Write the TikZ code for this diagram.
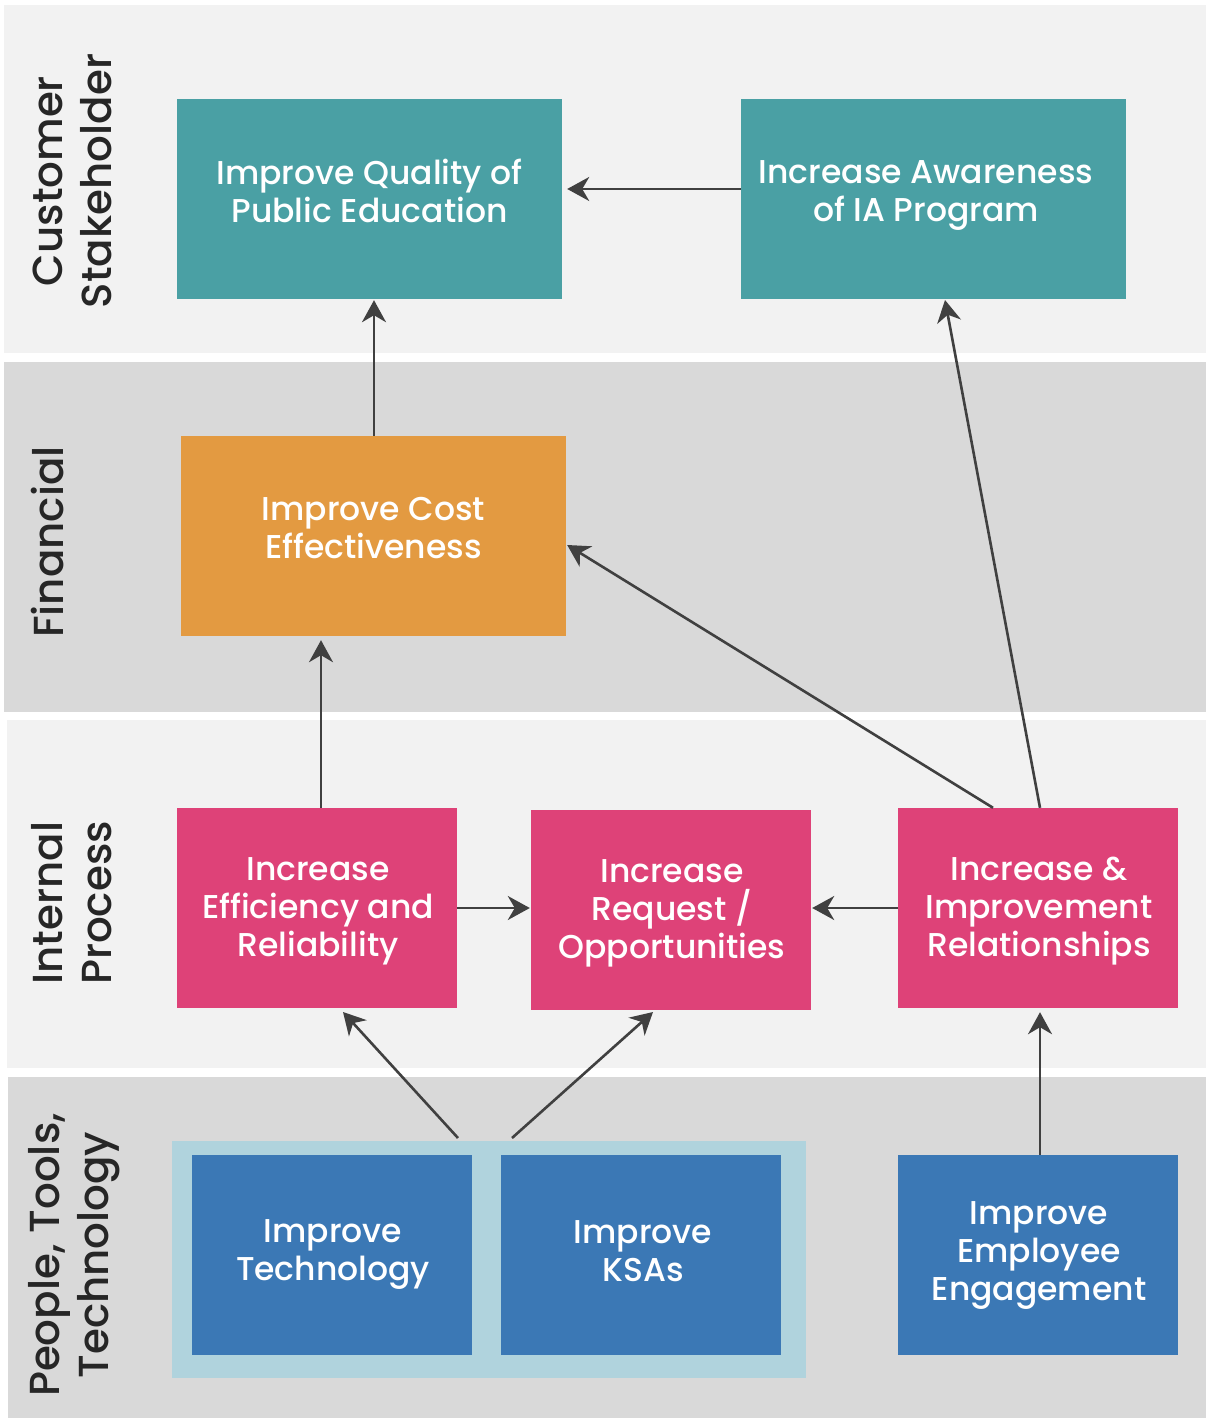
\documentclass[tikz,border=0pt]{standalone}
\usepackage{fontspec}
\setmainfont{Poppins}[UprightFont=* Medium]
\usetikzlibrary{arrows.meta}
\definecolor{bandA}{HTML}{F2F2F2}
\definecolor{bandB}{HTML}{D9D9D9}
\definecolor{teal}{HTML}{4AA0A4}
\definecolor{orng}{HTML}{E39A41}
\definecolor{pink}{HTML}{DE4278}
\definecolor{blu}{HTML}{3B78B5}
\definecolor{lblu}{HTML}{B0D3DD}
\definecolor{arr}{HTML}{404040}
\definecolor{lab}{HTML}{262626}
\begin{document}
\begin{tikzpicture}[x=1pt,y=-1pt,
  boxfill/.style={draw=none,inner sep=0pt},
  boxtext/.style={text=white,align=center,font=\fontsize{33}{38}\selectfont,inner sep=0pt},
  wide/.style={minimum width=385pt,minimum height=200pt},
  narrow/.style={minimum width=280pt,minimum height=200pt},
  conn/.style={draw=arr,line width=2.6pt,-{Stealth[length=22pt,width=24pt,inset=7pt]}},
  sidelab/.style={text=lab,align=center,rotate=90,font=\fontsize{42}{49}\selectfont}]
\path[use as bounding box,fill=white] (0,0) rectangle (1207,1420);
% bands
\fill[bandA] (4,5) rectangle (1206,353);
\fill[bandB] (4,362) rectangle (1206,712);
\fill[bandA] (7,720) rectangle (1206,1068);
\fill[bandB] (8,1077) rectangle (1206,1418);
\fill[lblu] (172,1141) rectangle (806,1378);
% side labels
\node[sidelab] (l1) at (72,181) {Customer\\Stakeholder};
\node[sidelab] (l2) at (48,542) {Financial};
\node[sidelab] (l3) at (72,903) {Internal\\Process};
\node[sidelab] (l4) at (74,1255) {People, Tools,\\Technology};
% boxes
\node[boxfill,wide,fill=teal] (q) at (369.5,199) {};
\node[boxtext] (qt) at (369.5,191) {Improve Quality of\\Public Education};
\node[boxfill,wide,fill=teal] (aw) at (933.5,199) {};
\node[boxtext] (awt) at (926,196) {Increase Awareness\\of IA Program};
\node[boxfill,wide,fill=orng] (c) at (373.5,536) {};
\node[boxtext] (ct) at (373.5,528) {Improve Cost\\Effectiveness};
\node[boxfill,narrow,fill=pink] (e) at (317,908) {};
\node[boxtext] (et) at (318,911) {Increase\\Efficiency and\\Reliability};
\node[boxfill,narrow,fill=pink] (r) at (671,910) {};
\node[boxtext] (rt) at (672,913) {Increase\\Request /\\Opportunities};
\node[boxfill,narrow,fill=pink] (ir) at (1038,908) {};
\node[boxtext] (irt) at (1039,911) {Increase \&\\Improvement\\Relationships};
\node[boxfill,narrow,fill=blu] (t) at (332,1255) {};
\node[boxtext] (tt) at (333,1255) {Improve\\Technology};
\node[boxfill,narrow,fill=blu] (k) at (641,1255) {};
\node[boxtext] (kt) at (643,1251) {Improve\\KSAs};
\node[boxfill,narrow,fill=blu] (em) at (1038,1255) {};
\node[boxtext] (emt) at (1039,1256) {Improve\\Employee\\Engagement};
\coordinate (g1) at (458,1138);
\coordinate (g2) at (512,1138);
% connectors
\draw[conn] (aw.west |- 0,189) -- ([xshift=5pt]q.east |- 0,189);
\draw[conn] (c.north -| 374,0) -- ([yshift=-1pt]q.south -| 374,0);
\draw[conn] (e.north -| 321,0) -- ([yshift=-4pt]c.south -| 321,0);
\draw[conn] (ir.north -| 993,0) -- ([xshift=1pt,yshift=-9pt]c.east);
\draw[conn] (ir.north -| 1040,0) -- (945,300);
\draw[conn] (e.east) -- ([xshift=-1pt]r.west |- e.east);
\draw[conn] (ir.west) -- ([xshift=1pt]r.east |- ir.west);
\draw[conn] (g1) -- (343,1012);
\draw[conn] (g2) -- (653,1012);
\draw[conn] (em.north -| 1040,0) -- ([yshift=-4pt]ir.south -| 1040,0);
\end{tikzpicture}
\end{document}
